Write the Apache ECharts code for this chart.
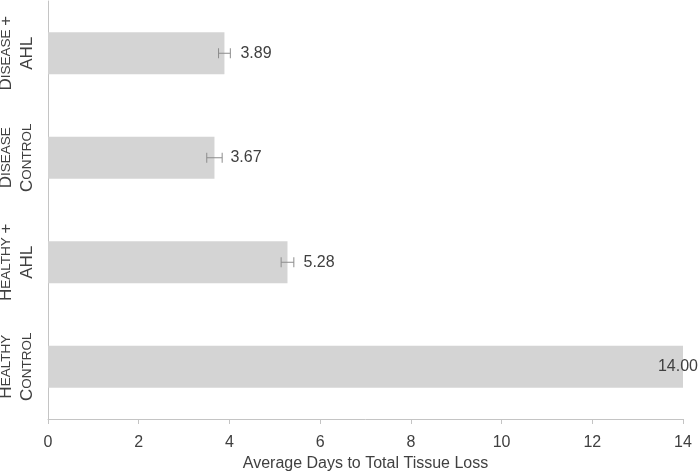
<!DOCTYPE html>
<html><head><meta charset="utf-8">
<script src="https://cdn.jsdelivr.net/npm/echarts@6/dist/echarts.min.js"></script>
<style>html,body{margin:0;padding:0;background:#fff}#c{width:700px;height:473px}</style>
</head><body><div id="c"></div>
<script>
const categories = ['Disease + AHL', 'Disease Control', 'Healthy + AHL', 'Healthy Control'];
const labelLines = [['Disease +', 'AHL'], ['Disease', 'Control'], ['Healthy +', 'AHL'], ['Healthy', 'Control']];
const values = [3.89, 3.67, 5.28, 14.00];
const errors = [0.13, 0.17, 0.14, 0];
const xTicks = [0, 2, 4, 6, 8, 10, 12, 14];
const xTitle = 'Average Days to Total Tissue Loss';

function smallCaps(word) {
  if (word === word.toUpperCase()) return '{b|' + word + '}';
  return '{b|' + word[0] + '}{s|' + word.slice(1).toUpperCase() + '}';
}
function fmtLabel(v) {
  const i = categories.indexOf(v);
  return labelLines[i].map(line => line.split(' ').map(smallCaps).join('{s| }')).join('\n');
}

const chart = echarts.init(document.getElementById('c'));
chart.setOption({
  animation: false,
  grid: { left: 48, right: 17, top: 1, bottom: 54, containLabel: false, outerBoundsMode: 'none' },
  xAxis: {
    type: 'value', min: xTicks[0], max: xTicks[xTicks.length - 1], interval: 2,
    name: xTitle, nameLocation: 'middle', nameGap: 37,
    nameTextStyle: { color: '#404040', fontSize: 16, fontFamily: 'Liberation Sans' },
    axisLine: { show: true, lineStyle: { color: '#c4c4c4' } },
    axisTick: { show: true, length: 5, lineStyle: { color: '#c4c4c4' } },
    axisLabel: { color: '#404040', fontSize: 16, margin: 16, fontFamily: 'Liberation Sans' },
    splitLine: { show: false }
  },
  yAxis: {
    type: 'category', data: categories, inverse: true,
    axisLine: { show: true, lineStyle: { color: '#c4c4c4' } },
    axisTick: { show: false },
    axisLabel: {
      interval: 0, rotate: 90, margin: 10, color: '#404040', fontFamily: 'Liberation Sans',
      formatter: fmtLabel, align: 'center', verticalAlign: 'bottom',
      lineHeight: 21,
      rich: {
        b: { fontSize: 17, color: '#404040', fontFamily: 'Liberation Sans', lineHeight: 21 },
        s: { fontSize: 13.5, color: '#404040', fontFamily: 'Liberation Sans', lineHeight: 21 }
      }
    }
  },
  series: [
    {
      type: 'bar', data: values.map((v, i) => {
        const d = { value: v };
        if (i === values.length - 1) d.label = { position: 'insideRight', offset: [31, 0] };
        return d;
      }),
      barWidth: '40%',
      itemStyle: { color: '#d4d4d4' },
      label: {
        show: true, position: 'right', distance: 16, color: '#404040', fontSize: 16,
        fontFamily: 'Liberation Sans', formatter: p => p.value.toFixed(2)
      },
      z: 2
    },
    {
      type: 'custom', z: 3,
      data: values.map((v, i) => [i, v, errors[i]]),
      renderItem: function (params, api) {
        const idx = api.value(0), v = api.value(1), e = api.value(2);
        if (!e) return null;
        const lo = api.coord([v - e, idx]);
        const hi = api.coord([v + e, idx]);
        const h = 5;
        const st = { stroke: '#8c8c8c', lineWidth: 1 };
        return {
          type: 'group', children: [
            { type: 'line', shape: { x1: lo[0], y1: lo[1], x2: hi[0], y2: hi[1] }, style: st },
            { type: 'line', shape: { x1: lo[0], y1: lo[1] - h, x2: lo[0], y2: lo[1] + h }, style: st },
            { type: 'line', shape: { x1: hi[0], y1: hi[1] - h, x2: hi[0], y2: hi[1] + h }, style: st }
          ]
        };
      }
    }
  ]
});
</script></body></html>
